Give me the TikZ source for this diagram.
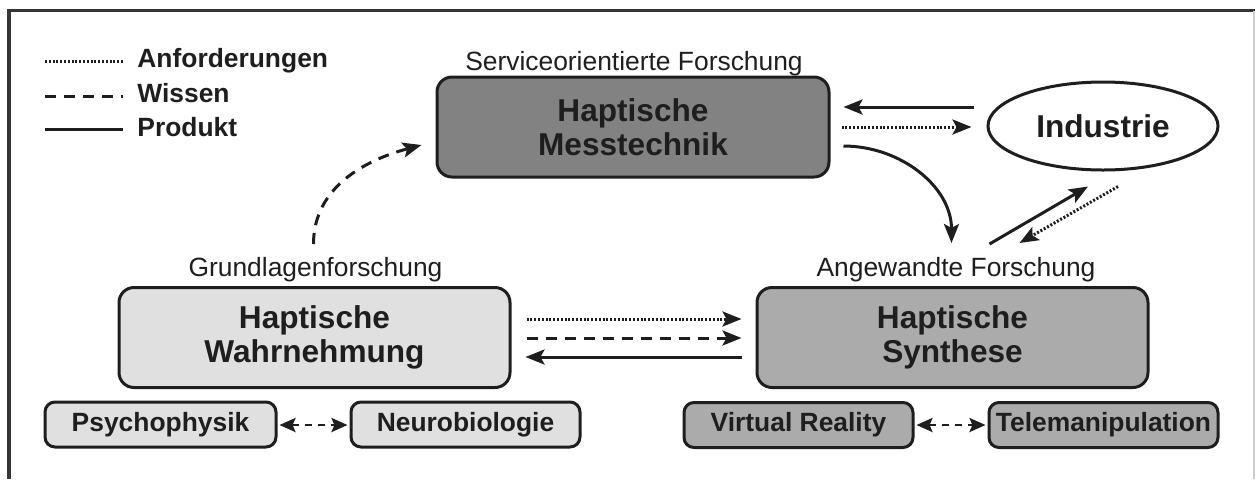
\documentclass[tikz,border=0pt]{standalone}
\usepackage{fontspec}
\setmainfont{Liberation Sans}
\usetikzlibrary{arrows.meta,shapes.geometric}
\newcommand{\px}{0.5pt}
\definecolor{dunkel}{HTML}{828282}
\definecolor{mittel}{HTML}{ABABAB}
\definecolor{hell}{HTML}{E0E0E0}
\definecolor{linie}{HTML}{1E1E1E}

\begin{document}
\begin{tikzpicture}[x=\px, y=-\px,
    box/.style={draw=linie, line width=1.5pt, rounded corners=7.5pt, align=center, inner sep=0pt, text=linie, minimum width=391*\px, minimum height=100*\px, font=\fontsize{15.8}{17}\selectfont\bfseries},
    klein/.style={draw=linie, line width=1.5pt, rounded corners=5pt, inner sep=0pt, text=linie, minimum width=229*\px, minimum height=45*\px, font=\fontsize{13.2}{15}\selectfont\bfseries},
    titel/.style={text=linie, anchor=base, font=\fontsize{13.2}{15}\selectfont},
    legtext/.style={text=linie, anchor=base west, inner sep=0pt, font=\fontsize{13.2}{15}\selectfont\bfseries},
    pfeil/.style={-{Stealth[length=9.5pt,width=7.5pt,inset=2pt]}},
    anf/.style={line width=1.5pt, draw=linie, dash pattern=on 1pt off 0.9pt},
    wissen/.style={line width=1.5pt, draw=linie, dash pattern=on 5.5pt off 4pt},
    produkt/.style={line width=1.5pt, draw=linie},
    kpfeil/.style={line width=1.4pt, draw=linie, dash pattern=on 3.5pt off 3pt, {Stealth[length=8pt,width=7pt,inset=1.5pt]}-{Stealth[length=8pt,width=7pt,inset=1.5pt]}}]
    \useasboundingbox (0,0) rectangle (1255,479);

    % Rahmen
    \draw[draw=linie!90, line width=1.7pt] (9,479) -- (9,10.5) -- (1255,10.5);
    \draw[draw=black!20, line width=0.6pt] (1254,11) -- (1254,479);

    % Legende
    \coordinate (leg-1-l) at (45,61);
    \coordinate (leg-1-r) at (123,61);
    \coordinate (leg-2-l) at (45,96);
    \coordinate (leg-2-r) at (123,96);
    \coordinate (leg-3-l) at (45,129);
    \coordinate (leg-3-r) at (123,129);
    \draw[anf] (leg-1-l) -- (leg-1-r);
    \draw[wissen] (leg-2-l) -- (leg-2-r);
    \draw[produkt] (leg-3-l) -- (leg-3-r);
    \node[legtext] (leg-1) at (137,67) {Anforderungen};
    \node[legtext] (leg-2) at (137,102) {Wissen};
    \node[legtext] (leg-3) at (137,136) {Produkt};

    % Hauptkaesten
    \node[box, fill=dunkel, minimum width=392*\px] (mess) at (633,127) {Haptische\\Messtechnik};
    \node[ellipse, draw=linie, line width=1.5pt, fill=white, inner sep=0pt, minimum width=230*\px, minimum height=88*\px, text=linie, font=\fontsize{15.8}{17}\selectfont\bfseries] (indus) at (1103,126) {Industrie};
    \node[box, fill=hell] (wahr) at (314.5,337.5) {Haptische\\Wahrnehmung};
    \node[box, fill=mittel] (synth) at (952.5,337.5) {Haptische\\Synthese};

    % Titel
    \node[titel] (service) at (634,70) {Serviceorientierte Forschung};
    \node[titel] (grund) at (315.5,276) {Grundlagenforschung};
    \node[titel] (angew) at (956,276) {Angewandte Forschung};

    % Unterkaesten
    \node[klein, fill=hell, minimum width=231*\px] (psycho) at (160.5,424.5) {Psychophysik};
    \node[klein, fill=hell] (neuro) at (465.5,424.5) {Neurobiologie};
    \node[klein, fill=mittel] (vr) at (798.5,425) {Virtual Reality};
    \node[klein, fill=mittel] (tele) at (1103.5,425) {Telemanipulation};

    % Verbindungen
    \draw[produkt, pfeil] ([shift={(-13,-19)}]indus.west) -- ([shift={(13,-20)}]mess.east);
    \draw[anf, pfeil] ([shift={(11,0)}]mess.east) -- ([shift={(-15,1)}]indus.west);
    \draw[produkt, pfeil] ([shift={(13,19)}]mess.east) to[out=0,in=90] ([shift={(-1,-43)}]synth.north);
    \draw[produkt, pfeil] ([shift={(37,-42)}]synth.north) -- ([shift={(-15,15)}]indus.south);
    \draw[anf, pfeil] ([shift={(15,15)}]indus.south) -- ([shift={(67,-43)}]synth.north);
    \draw[wissen, pfeil] ([shift={(-1,-42)}]wahr.north) to[out=90,in=195] ([shift={(-14,18)}]mess.west);
    \draw[anf, pfeil] ([shift={(15,-18.5)}]wahr.east) -- ([shift={(-14,-18.5)}]synth.west);
    \draw[wissen, pfeil] ([shift={(15,0.5)}]wahr.east) -- ([shift={(-14,0.5)}]synth.west);
    \draw[produkt, pfeil] ([shift={(-14,19.5)}]synth.west) -- ([shift={(14,19.5)}]wahr.east);
    \draw[kpfeil] ([shift={(2,0.5)}]psycho.east) -- ([shift={(-2,0.5)}]neuro.west);
    \draw[kpfeil] ([shift={(2,0)}]vr.east) -- ([shift={(-2,0)}]tele.west);

\end{tikzpicture}
\end{document}
